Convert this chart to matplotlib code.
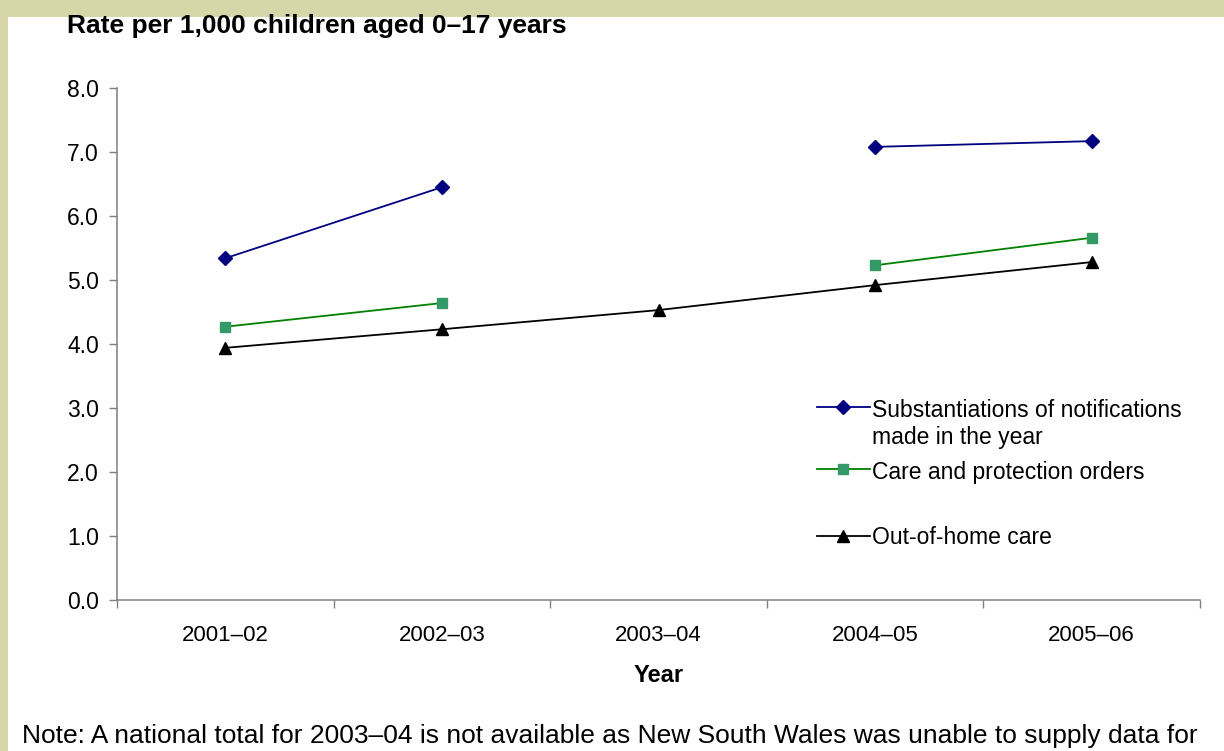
import matplotlib
matplotlib.use("Agg")
import matplotlib.pyplot as plt
from matplotlib.patches import Rectangle
import numpy as np

plt.rcParams['font.family'] = ['Liberation Sans', 'DejaVu Sans']

years = ["2001\u201302", "2002\u201303", "2003\u201304", "2004\u201305", "2005\u201306"]
# None = not available (no national total for 2003-04)
substantiations = [5.34, 6.45, None, 7.08, 7.17]
care_orders = [4.27, 4.64, None, 5.23, 5.66]
out_of_home = [3.94, 4.23, 4.53, 4.92, 5.28]

fig = plt.figure(figsize=(12.24, 7.51), dpi=100)
ax = fig.add_axes([117 / 1224, 1 - 600 / 751, 1083 / 1224, 512 / 751])

# khaki page border (top and left)
fig.patches.append(Rectangle((0, 1 - 17 / 751), 1, 17 / 751, transform=fig.transFigure,
                             facecolor="#d6d6a8", edgecolor="none", zorder=0))
fig.patches.append(Rectangle((0, 0), 7.5 / 1224, 1, transform=fig.transFigure,
                             facecolor="#d6d6a8", edgecolor="none", zorder=0))

x = np.arange(len(years))


def to_arr(vals):
    return np.array([np.nan if v is None else v for v in vals], dtype=float)


l1, = ax.plot(x, to_arr(substantiations), color="#000080", lw=1.3, marker="D", ms=7,
              mfc="#000080", mec="#000080", label="Substantiations of notifications\nmade in the year")
l2, = ax.plot(x, to_arr(care_orders), color="#008000", lw=1.3, marker="s", ms=7,
              mfc="#339966", mec="#339966", label="Care and protection orders")
l3, = ax.plot(x, to_arr(out_of_home), color="black", lw=1.3, marker="^", ms=8,
              mfc="black", mec="black", label="Out-of-home care")

ax.set_xlim(-0.5, len(years) - 0.5)
ax.set_ylim(0, 8)
ax.set_yticks(np.arange(0, 8.1, 1.0))
ax.set_yticklabels(["%.1f" % v for v in np.arange(0, 8.1, 1.0)], fontsize=16.5)

ax.set_xticks(np.arange(-0.5, len(years)), minor=False)
ax.set_xticklabels([])
ax.set_xticks(x, minor=True)
ax.set_xticklabels(years, minor=True, fontsize=16)
ax.tick_params(axis="x", which="major", length=6, width=1, color="#808080", direction="out")
ax.tick_params(axis="x", which="minor", length=0, pad=18)
ax.tick_params(axis="y", length=6, width=1, color="#808080", direction="out", pad=7)

for s in ["top", "right"]:
    ax.spines[s].set_visible(False)
for s in ["left", "bottom"]:
    ax.spines[s].set_color("#808080")
    ax.spines[s].set_linewidth(1.1)

ax.set_xlabel("Year", fontsize=17, fontweight="bold", labelpad=13)

leg_kw = dict(bbox_transform=fig.transFigure, frameon=False, fontsize=16.5,
              handlelength=2.3, handletextpad=0.1, borderpad=0, borderaxespad=0)
leg1 = ax.legend(handles=[l1, l2], loc="upper left",
                 bbox_to_anchor=(817 / 1224, 1 - 399 / 751), labelspacing=0.55, **leg_kw)
# put the handle next to the first line of a two-line label
for col in leg1._legend_handle_box.get_children():
    for row in col.get_children():
        row.align = "top"
ax.add_artist(leg1)
leg2 = ax.legend(handles=[l3], loc="center left",
                 bbox_to_anchor=(817 / 1224, 1 - 538 / 751), **leg_kw)

fig.text(67 / 1224, 1 - 33 / 751, "Rate per 1,000 children aged 0\u201317 years",
         fontsize=19, fontweight="bold", va="baseline", ha="left")

fig.text(22 / 1224, 1 - 736 / 751,
         "Note: A national total for 2003\u201304 is not available as New South Wales was unable to supply data for",
         fontsize=19, va="center", ha="left")

fig.savefig("out.png", dpi=100, facecolor="white")
